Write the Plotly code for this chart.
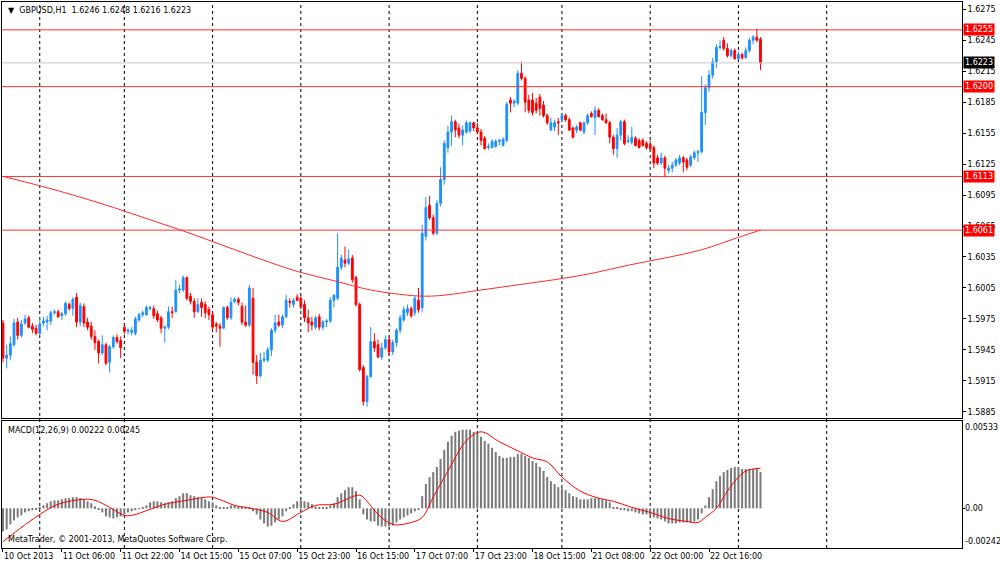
import plotly.graph_objects as go
from plotly.subplots import make_subplots

# GBPUSD H1 bars, 10 Oct 2013 14:00 .. 23 Oct 2013 06:00 (bar index 0..206)
opens = [
    1.5971, 1.5937, 1.5940, 1.5950, 1.5972, 1.5959, 1.5971, 1.5976, 1.5968, 1.5966,
    1.5961, 1.5971, 1.5972, 1.5973, 1.5981, 1.5982, 1.5978, 1.5980, 1.5989, 1.5985,
    1.5996, 1.5972, 1.5987, 1.5972, 1.5968, 1.5958, 1.5953, 1.5942, 1.5950, 1.5933,
    1.5948, 1.5957, 1.5954, 1.5967, 1.5963, 1.5962, 1.5961, 1.5974, 1.5979, 1.5979,
    1.5985, 1.5985, 1.5980, 1.5976, 1.5966, 1.5967, 1.5982, 1.5982, 1.6003, 1.6003,
    1.6015, 1.5997, 1.5992, 1.5982, 1.5991, 1.5989, 1.5984, 1.5979, 1.5970, 1.5968,
    1.5966, 1.5986, 1.5976, 1.5992, 1.5994, 1.5987, 1.5972, 1.5969, 1.5995, 1.5933,
    1.5920, 1.5935, 1.5935, 1.5945, 1.5964, 1.5972, 1.5969, 1.5977, 1.5992, 1.5989,
    1.5996, 1.5995, 1.5989, 1.5976, 1.5972, 1.5967, 1.5977, 1.5967, 1.5972, 1.5973,
    1.5993, 1.5995, 1.6025, 1.6032, 1.6029, 1.6034, 1.6015, 1.5989, 1.5928, 1.5895,
    1.5919, 1.5953, 1.5950, 1.5938, 1.5947, 1.5955, 1.5943, 1.5952, 1.5964, 1.5974,
    1.5981, 1.5985, 1.5981, 1.5993, 1.5986, 1.6055, 1.6085, 1.6073, 1.6058, 1.6087,
    1.6110, 1.6141, 1.6156, 1.6166, 1.6160, 1.6153, 1.6156, 1.6157, 1.6165, 1.6160,
    1.6156, 1.6150, 1.6141, 1.6141, 1.6142, 1.6147, 1.6143, 1.6148, 1.6187, 1.6184,
    1.6184, 1.6213, 1.6208, 1.6187, 1.6187, 1.6184, 1.6190, 1.6182, 1.6172, 1.6158,
    1.6161, 1.6166, 1.6168, 1.6172, 1.6168, 1.6160, 1.6158, 1.6165, 1.6156, 1.6165,
    1.6174, 1.6170, 1.6177, 1.6172, 1.6168, 1.6165, 1.6151, 1.6140, 1.6153, 1.6166,
    1.6147, 1.6146, 1.6150, 1.6148, 1.6148, 1.6145, 1.6144, 1.6141, 1.6131, 1.6126,
    1.6131, 1.6119, 1.6121, 1.6124, 1.6126, 1.6131, 1.6129, 1.6124, 1.6131, 1.6136,
    1.6137, 1.6175, 1.6199, 1.6211, 1.6224, 1.6238, 1.6245, 1.6237, 1.6230, 1.6235,
    1.6227, 1.6231, 1.6228, 1.6235, 1.6245, 1.6248, 1.6246,
]
highs = [
    1.5974, 1.5950, 1.5958, 1.5975, 1.5976, 1.5974, 1.5979, 1.5978, 1.5971, 1.5969,
    1.5976, 1.5977, 1.5978, 1.5983, 1.5984, 1.5984, 1.5982, 1.5992, 1.5991, 1.5996,
    1.6000, 1.5991, 1.5990, 1.5976, 1.5972, 1.5964, 1.5955, 1.5959, 1.5952, 1.5950,
    1.5959, 1.5960, 1.5958, 1.5969, 1.5966, 1.5967, 1.5977, 1.5981, 1.5983, 1.5988,
    1.5988, 1.5988, 1.5983, 1.5978, 1.5969, 1.5987, 1.5987, 1.6013, 1.6008, 1.6017,
    1.6016, 1.6000, 1.5995, 1.5995, 1.5995, 1.5992, 1.5987, 1.5982, 1.5972, 1.5971,
    1.5987, 1.5988, 1.5996, 1.5996, 1.5996, 1.5991, 1.5988, 1.6008, 1.6005, 1.5940,
    1.5942, 1.5943, 1.5948, 1.5966, 1.5979, 1.5979, 1.5979, 1.5998, 1.5995, 1.5995,
    1.5999, 1.5997, 1.5993, 1.5984, 1.5977, 1.5978, 1.5980, 1.5974, 1.5975, 1.5996,
    1.5999, 1.6058, 1.6037, 1.6045, 1.6042, 1.6037, 1.6017, 1.5991, 1.5930, 1.5921,
    1.5967, 1.5961, 1.5955, 1.5952, 1.5959, 1.5958, 1.5955, 1.5966, 1.5979, 1.5987,
    1.5989, 1.5987, 1.5997, 1.6005, 1.6066, 1.6093, 1.6094, 1.6076, 1.6090, 1.6122,
    1.6148, 1.6162, 1.6172, 1.6168, 1.6164, 1.6162, 1.6167, 1.6166, 1.6166, 1.6165,
    1.6159, 1.6152, 1.6145, 1.6149, 1.6149, 1.6149, 1.6151, 1.6185, 1.6190, 1.6188,
    1.6216, 1.6224, 1.6210, 1.6192, 1.6194, 1.6189, 1.6193, 1.6186, 1.6174, 1.6170,
    1.6168, 1.6170, 1.6174, 1.6174, 1.6170, 1.6161, 1.6163, 1.6166, 1.6166, 1.6174,
    1.6176, 1.6181, 1.6179, 1.6174, 1.6174, 1.6167, 1.6153, 1.6160, 1.6168, 1.6168,
    1.6153, 1.6161, 1.6152, 1.6150, 1.6150, 1.6147, 1.6148, 1.6143, 1.6134, 1.6136,
    1.6133, 1.6124, 1.6127, 1.6131, 1.6134, 1.6133, 1.6131, 1.6134, 1.6138, 1.6139,
    1.6210, 1.6202, 1.6216, 1.6228, 1.6241, 1.6245, 1.6248, 1.6242, 1.6237, 1.6237,
    1.6234, 1.6233, 1.6238, 1.6247, 1.6250, 1.6256, 1.6248,
]
lows = [
    1.5933, 1.5927, 1.5935, 1.5948, 1.5955, 1.5957, 1.5969, 1.5966, 1.5961, 1.5959,
    1.5959, 1.5968, 1.5964, 1.5969, 1.5979, 1.5976, 1.5974, 1.5978, 1.5983, 1.5978,
    1.5967, 1.5968, 1.5967, 1.5964, 1.5955, 1.5945, 1.5932, 1.5940, 1.5930, 1.5923,
    1.5946, 1.5951, 1.5937, 1.5960, 1.5960, 1.5959, 1.5959, 1.5972, 1.5977, 1.5978,
    1.5983, 1.5975, 1.5972, 1.5961, 1.5952, 1.5965, 1.5976, 1.5981, 1.6000, 1.6001,
    1.5993, 1.5989, 1.5976, 1.5981, 1.5977, 1.5976, 1.5974, 1.5964, 1.5962, 1.5948,
    1.5965, 1.5974, 1.5974, 1.5990, 1.5988, 1.5969, 1.5967, 1.5967, 1.5921, 1.5912,
    1.5918, 1.5933, 1.5933, 1.5939, 1.5961, 1.5967, 1.5966, 1.5976, 1.5986, 1.5986,
    1.5992, 1.5984, 1.5972, 1.5962, 1.5964, 1.5965, 1.5964, 1.5964, 1.5967, 1.5971,
    1.5986, 1.5993, 1.6022, 1.6025, 1.6027, 1.6010, 1.5987, 1.5924, 1.5891, 1.5890,
    1.5918, 1.5943, 1.5937, 1.5935, 1.5945, 1.5940, 1.5940, 1.5948, 1.5961, 1.5972,
    1.5978, 1.5976, 1.5978, 1.5981, 1.5982, 1.6051, 1.6071, 1.6056, 1.6056, 1.6084,
    1.6105, 1.6136, 1.6143, 1.6151, 1.6150, 1.6143, 1.6154, 1.6155, 1.6157, 1.6154,
    1.6143, 1.6139, 1.6139, 1.6140, 1.6141, 1.6143, 1.6142, 1.6146, 1.6175, 1.6180,
    1.6182, 1.6206, 1.6175, 1.6174, 1.6172, 1.6174, 1.6172, 1.6170, 1.6163, 1.6157,
    1.6157, 1.6153, 1.6166, 1.6166, 1.6157, 1.6150, 1.6155, 1.6157, 1.6154, 1.6163,
    1.6170, 1.6153, 1.6170, 1.6167, 1.6164, 1.6145, 1.6134, 1.6131, 1.6148, 1.6143,
    1.6145, 1.6144, 1.6142, 1.6140, 1.6142, 1.6139, 1.6139, 1.6121, 1.6124, 1.6124,
    1.6112, 1.6116, 1.6117, 1.6122, 1.6124, 1.6117, 1.6119, 1.6122, 1.6129, 1.6127,
    1.6135, 1.6163, 1.6195, 1.6208, 1.6218, 1.6236, 1.6235, 1.6228, 1.6228, 1.6226,
    1.6226, 1.6226, 1.6227, 1.6233, 1.6241, 1.6243, 1.6216,
]
closes = [
    1.5937, 1.5940, 1.5951, 1.5971, 1.5959, 1.5970, 1.5975, 1.5967, 1.5965, 1.5961,
    1.5970, 1.5973, 1.5974, 1.5981, 1.5982, 1.5977, 1.5980, 1.5990, 1.5985, 1.5994,
    1.5972, 1.5988, 1.5971, 1.5967, 1.5958, 1.5952, 1.5942, 1.5950, 1.5932, 1.5948,
    1.5957, 1.5953, 1.5947, 1.5963, 1.5964, 1.5964, 1.5975, 1.5979, 1.5981, 1.5986,
    1.5986, 1.5978, 1.5974, 1.5966, 1.5967, 1.5982, 1.5981, 1.6003, 1.6004, 1.6015,
    1.5995, 1.5992, 1.5982, 1.5989, 1.5986, 1.5981, 1.5979, 1.5967, 1.5968, 1.5966,
    1.5986, 1.5976, 1.5991, 1.5994, 1.5991, 1.5972, 1.5969, 1.6005, 1.5933, 1.5920,
    1.5935, 1.5936, 1.5945, 1.5964, 1.5971, 1.5969, 1.5977, 1.5993, 1.5991, 1.5993,
    1.5993, 1.5987, 1.5976, 1.5971, 1.5969, 1.5976, 1.5967, 1.5972, 1.5973, 1.5993,
    1.5998, 1.6025, 1.6034, 1.6029, 1.6033, 1.6013, 1.5989, 1.5926, 1.5895, 1.5919,
    1.5953, 1.5947, 1.5938, 1.5947, 1.5955, 1.5943, 1.5952, 1.5964, 1.5976, 1.5984,
    1.5985, 1.5978, 1.5995, 1.5984, 1.6058, 1.6083, 1.6073, 1.6058, 1.6087, 1.6110,
    1.6145, 1.6156, 1.6166, 1.6158, 1.6153, 1.6158, 1.6165, 1.6165, 1.6160, 1.6156,
    1.6148, 1.6140, 1.6142, 1.6147, 1.6147, 1.6148, 1.6149, 1.6183, 1.6184, 1.6186,
    1.6213, 1.6208, 1.6185, 1.6177, 1.6175, 1.6177, 1.6179, 1.6172, 1.6165, 1.6165,
    1.6165, 1.6165, 1.6172, 1.6168, 1.6158, 1.6151, 1.6161, 1.6158, 1.6165, 1.6172,
    1.6171, 1.6177, 1.6171, 1.6168, 1.6165, 1.6151, 1.6140, 1.6153, 1.6166, 1.6145,
    1.6148, 1.6151, 1.6143, 1.6141, 1.6143, 1.6141, 1.6140, 1.6126, 1.6126, 1.6131,
    1.6121, 1.6121, 1.6124, 1.6129, 1.6131, 1.6127, 1.6122, 1.6132, 1.6136, 1.6137,
    1.6175, 1.6199, 1.6211, 1.6224, 1.6238, 1.6239, 1.6237, 1.6230, 1.6235, 1.6227,
    1.6231, 1.6228, 1.6235, 1.6245, 1.6248, 1.6245, 1.6223,
]

# moving average read at a few bars
ma_idx = [0, 10, 20, 30, 40, 50, 60, 70, 80, 90, 100, 110, 115, 120, 130, 140,
          150, 160, 170, 180, 190, 200, 206]
ma_val = [1.6113, 1.6104, 1.6094, 1.6083, 1.6071, 1.6059, 1.6046, 1.6033, 1.6021,
          1.6012, 1.6003, 1.5998, 1.5997, 1.5998, 1.6003, 1.6008, 1.6013, 1.6019,
          1.6027, 1.6034, 1.6042, 1.6054, 1.6061]

# MACD(12,26,9) main histogram, one value per bar
macd_hist = [
    -0.00141, -0.00129, -0.00098, -0.00074, -0.00055, -0.00043, -0.00025, -0.00018, -0.00012, -0.00006,
    0.00006, 0.00018, 0.00031, 0.00043, 0.00049, 0.00049, 0.00055, 0.00062, 0.00062, 0.00068,
    0.00068, 0.00062, 0.00055, 0.00043, 0.00031, 0.00012, -0.00006, -0.00025, -0.00049, -0.00055,
    -0.00062, -0.00055, -0.00049, -0.00037, -0.00025, -0.00018, -0.00012, 0.00002, 0.00006, 0.00018,
    0.00037, 0.00043, 0.00043, 0.00037, 0.00031, 0.00037, 0.00043, 0.00062, 0.00074, 0.00092,
    0.00092, 0.00080, 0.00074, 0.00068, 0.00062, 0.00055, 0.00043, 0.00037, 0.00018, 0.00006,
    0.00006, 0.00006, 0.00018, 0.00018, 0.00012, 0.00006, 0.00006, 0.00006, -0.00018, -0.00037,
    -0.00068, -0.00092, -0.00111, -0.00105, -0.00086, -0.00068, -0.00049, -0.00018, 0.00006, 0.00025,
    0.00043, 0.00049, 0.00043, 0.00037, 0.00025, 0.00012, 0.00006, 0.00006, 0.00006, 0.00018,
    0.00031, 0.00068, 0.00092, 0.00111, 0.00129, 0.00129, 0.00105, 0.00055, -0.00037, -0.00068,
    -0.00080, -0.00080, -0.00105, -0.00111, -0.00111, -0.00111, -0.00105, -0.00086, -0.00068, -0.00055,
    -0.00043, -0.00031, -0.00018, -0.00006, 0.00074, 0.00148, 0.00191, 0.00221, 0.00252, 0.00301,
    0.00357, 0.00406, 0.00443, 0.00467, 0.00474, 0.00480, 0.00480, 0.00480, 0.00467, 0.00455,
    0.00437, 0.00412, 0.00394, 0.00369, 0.00344, 0.00320, 0.00308, 0.00308, 0.00314, 0.00314,
    0.00332, 0.00332, 0.00320, 0.00308, 0.00289, 0.00277, 0.00252, 0.00228, 0.00191, 0.00166,
    0.00148, 0.00129, 0.00123, 0.00111, 0.00092, 0.00074, 0.00068, 0.00055, 0.00055, 0.00055,
    0.00062, 0.00062, 0.00062, 0.00055, 0.00049, 0.00037, 0.00006, 0.00006, -0.00006, -0.00012,
    -0.00018, -0.00018, -0.00025, -0.00031, -0.00037, -0.00037, -0.00043, -0.00055, -0.00062, -0.00068,
    -0.00080, -0.00092, -0.00092, -0.00092, -0.00086, -0.00086, -0.00086, -0.00086, -0.00080, -0.00068,
    -0.00031, 0.00018, 0.00068, 0.00117, 0.00166, 0.00197, 0.00221, 0.00234, 0.00246, 0.00252,
    0.00252, 0.00240, 0.00240, 0.00240, 0.00240, 0.00240, 0.00222,
]
# signal line read at a few bars
sig_idx = [0, 10, 15, 22, 25, 29, 33, 35, 40, 44, 50, 55, 57, 63, 66, 72, 76, 81, 85,
           90, 97, 99, 102, 106, 111, 114, 117, 121, 126, 130, 135, 140, 144, 148,
           152, 157, 162, 166, 171, 176, 181, 186, 189, 191, 194, 197, 200, 202, 204, 206]
sig_val = [-0.00203, -0.00037, 0.00025, 0.00055, 0.00049, 0.00006, -0.00043, -0.00043,
           -0.00006, 0.00025, 0.00049, 0.00068, 0.00068, 0.00018, 0.00006, -0.00025,
           -0.00080, -0.00025, 0.00018, 0.00025, 0.00080, 0.00043, -0.00037, -0.00098,
           -0.00086, -0.00055, 0.00068, 0.00228, 0.00412, 0.00467, 0.00406, 0.00351,
           0.00308, 0.00283, 0.00191, 0.00105, 0.00062, 0.00043, 0.00006, -0.00025,
           -0.00062, -0.00080, -0.00086, -0.00055, 0.00000, 0.00105, 0.00191, 0.00228,
           0.00240, 0.00245]

# time axis
label_idx = [0, 16, 32, 48, 64, 80, 96, 112, 128, 144, 160, 176, 192]
x_labels = ["10 Oct 2013", "11 Oct 06:00", "11 Oct 22:00", "14 Oct 15:00", "15 Oct 07:00",
            "15 Oct 23:00", "16 Oct 15:00", "17 Oct 07:00", "17 Oct 23:00", "18 Oct 15:00",
            "21 Oct 08:00", "22 Oct 00:00", "22 Oct 16:00"]
day_start_idx = [10, 33, 57, 81, 105, 129, 152, 176, 200, 224]

# price scale and drawn levels
price_ticks = [1.6275, 1.6245, 1.6215, 1.6185, 1.6155, 1.6125, 1.6095, 1.6065,
               1.6035, 1.6005, 1.5975, 1.5945, 1.5915, 1.5885]
levels = [1.6255, 1.6200, 1.6113, 1.6061]
last_price = 1.6223
macd_ticks = [0.00533, 0.0, -0.00242]
macd_tick_text = ["0.00533", "0.00", "-0.00242"]

bars = list(range(len(closes)))
FONT = "DejaVu Sans"
BLUE = "#1E90FF"
RED = "#FF0000"

fig = make_subplots(rows=2, cols=1, shared_xaxes=True)

fig.add_trace(go.Candlestick(
    x=bars, open=opens, high=highs, low=lows, close=closes,
    increasing=dict(line=dict(color=BLUE, width=1), fillcolor=BLUE),
    decreasing=dict(line=dict(color=RED, width=1), fillcolor=RED),
    whiskerwidth=0, showlegend=False, hoverinfo="skip"), row=1, col=1)

fig.add_trace(go.Scatter(
    x=ma_idx, y=ma_val, mode="lines", line=dict(color="#FF2A2A", width=1, shape="spline"),
    showlegend=False, hoverinfo="skip"), row=1, col=1)

fig.add_trace(go.Bar(
    x=bars, y=macd_hist, marker_color="#7A7A7A", marker_line_width=0, width=0.55,
    showlegend=False, hoverinfo="skip"), row=2, col=1)

fig.add_trace(go.Scatter(
    x=sig_idx, y=sig_val, mode="lines", line=dict(color=RED, width=1, shape="spline"),
    showlegend=False, hoverinfo="skip"), row=2, col=1)

# day separators (dashed)
for d in day_start_idx:
    fig.add_shape(type="line", xref="x", yref="paper", x0=d, x1=d, y0=0, y1=1,
                  line=dict(color="black", width=1, dash="3px,3px"), layer="below")

# horizontal levels
for lv in levels:
    fig.add_shape(type="line", xref="paper", yref="y", x0=0, x1=1, y0=lv, y1=lv,
                  line=dict(color="#FF3030", width=1))
fig.add_shape(type="line", xref="paper", yref="y", x0=0, x1=1, y0=last_price, y1=last_price,
              line=dict(color="#C8C8C8", width=1))

annotations = []
for lv in levels:
    annotations.append(dict(x=1, xref="paper", y=lv, yref="y", xanchor="left", xshift=1,
                            text=f"{lv:.4f}", showarrow=False, bgcolor=RED, borderpad=1,
                            font=dict(family=FONT, size=8, color="white")))
annotations.append(dict(x=1, xref="paper", y=last_price, yref="y", xanchor="left", xshift=1,
                        text=f"{last_price:.4f}", showarrow=False, bgcolor="black", borderpad=1,
                        font=dict(family=FONT, size=8, color="white")))

# MACD scale labels sit inside the window edges, as in the terminal
for val, txt, anchor in zip(macd_ticks, macd_tick_text, ["top", "middle", "bottom"]):
    annotations.append(dict(x=1, xref="paper", y=val, yref="y2", xanchor="left",
                            yanchor=anchor, xshift=1, text=txt, showarrow=False,
                            font=dict(family=FONT, size=8, color="black")))

title_txt = "\u25bc\u00a0\u00a0GBPUSD,H1\u00a0\u00a0" + " ".join(
    f"{v:.4f}" for v in (opens[-1], highs[-1], lows[-1], closes[-1]))
annotations.append(dict(x=0, xref="paper", y=1, yref="paper", xanchor="left", yanchor="top",
                        xshift=4, yshift=-2, text=title_txt, showarrow=False,
                        font=dict(family=FONT, size=8, color="black")))
annotations.append(dict(x=0, xref="paper", y=0.2326, yref="paper", xanchor="left", yanchor="top",
                        xshift=4, yshift=-3,
                        text=f"MACD(12,26,9) {macd_hist[-1]:.5f} {sig_val[-1]:.5f}",
                        showarrow=False, font=dict(family=FONT, size=8, color="black")))
annotations.append(dict(x=0, xref="paper", y=0, yref="paper", xanchor="left", yanchor="bottom",
                        xshift=4, yshift=2,
                        text="MetaTrader, \u00a9 2001-2013, MetaQuotes Software Corp.",
                        showarrow=False, font=dict(family=FONT, size=8, color="black")))

axis_common = dict(showline=True, linecolor="black", linewidth=1, mirror=True,
                   showgrid=False, zeroline=False, automargin=False)

fig.update_layout(
    width=1000, height=563,
    margin=dict(l=2, r=38, t=2, b=15),
    paper_bgcolor="white", plot_bgcolor="white",
    font=dict(family=FONT, size=8, color="black"),
    showlegend=False,
    annotations=annotations,
    xaxis=dict(range=[-0.27, 260.8], showticklabels=False, ticks="",
               rangeslider=dict(visible=False), **axis_common),
    xaxis2=dict(range=[-0.27, 260.8], tickmode="array", tickvals=label_idx, ticktext=x_labels,
                ticks="outside", ticklen=3, tickcolor="black", tickangle=0,
                ticklabelposition="outside right",
                tickfont=dict(family=FONT, size=8, color="black"),
                rangeslider=dict(visible=False), **axis_common),
    yaxis=dict(domain=[0.2381, 1.0], range=[1.5879, 1.6282], side="right",
               tickmode="array", tickvals=price_ticks,
               ticktext=[f"{t:.4f}" for t in price_ticks],
               ticks="outside", ticklen=3, tickcolor="black",
               tickfont=dict(family=FONT, size=8, color="black"), **axis_common),
    yaxis2=dict(domain=[0.0, 0.2326], range=[-0.00242, 0.00533], side="right",
                tickmode="array", tickvals=[0.0], showticklabels=False,
                ticks="outside", ticklen=2, tickcolor="black", **axis_common),
)

# the page body has a default margin; remove it so the figure fills the window
fig.write_html("out.html", config={"displayModeBar": False},
               post_script="document.body.style.margin='0';")
